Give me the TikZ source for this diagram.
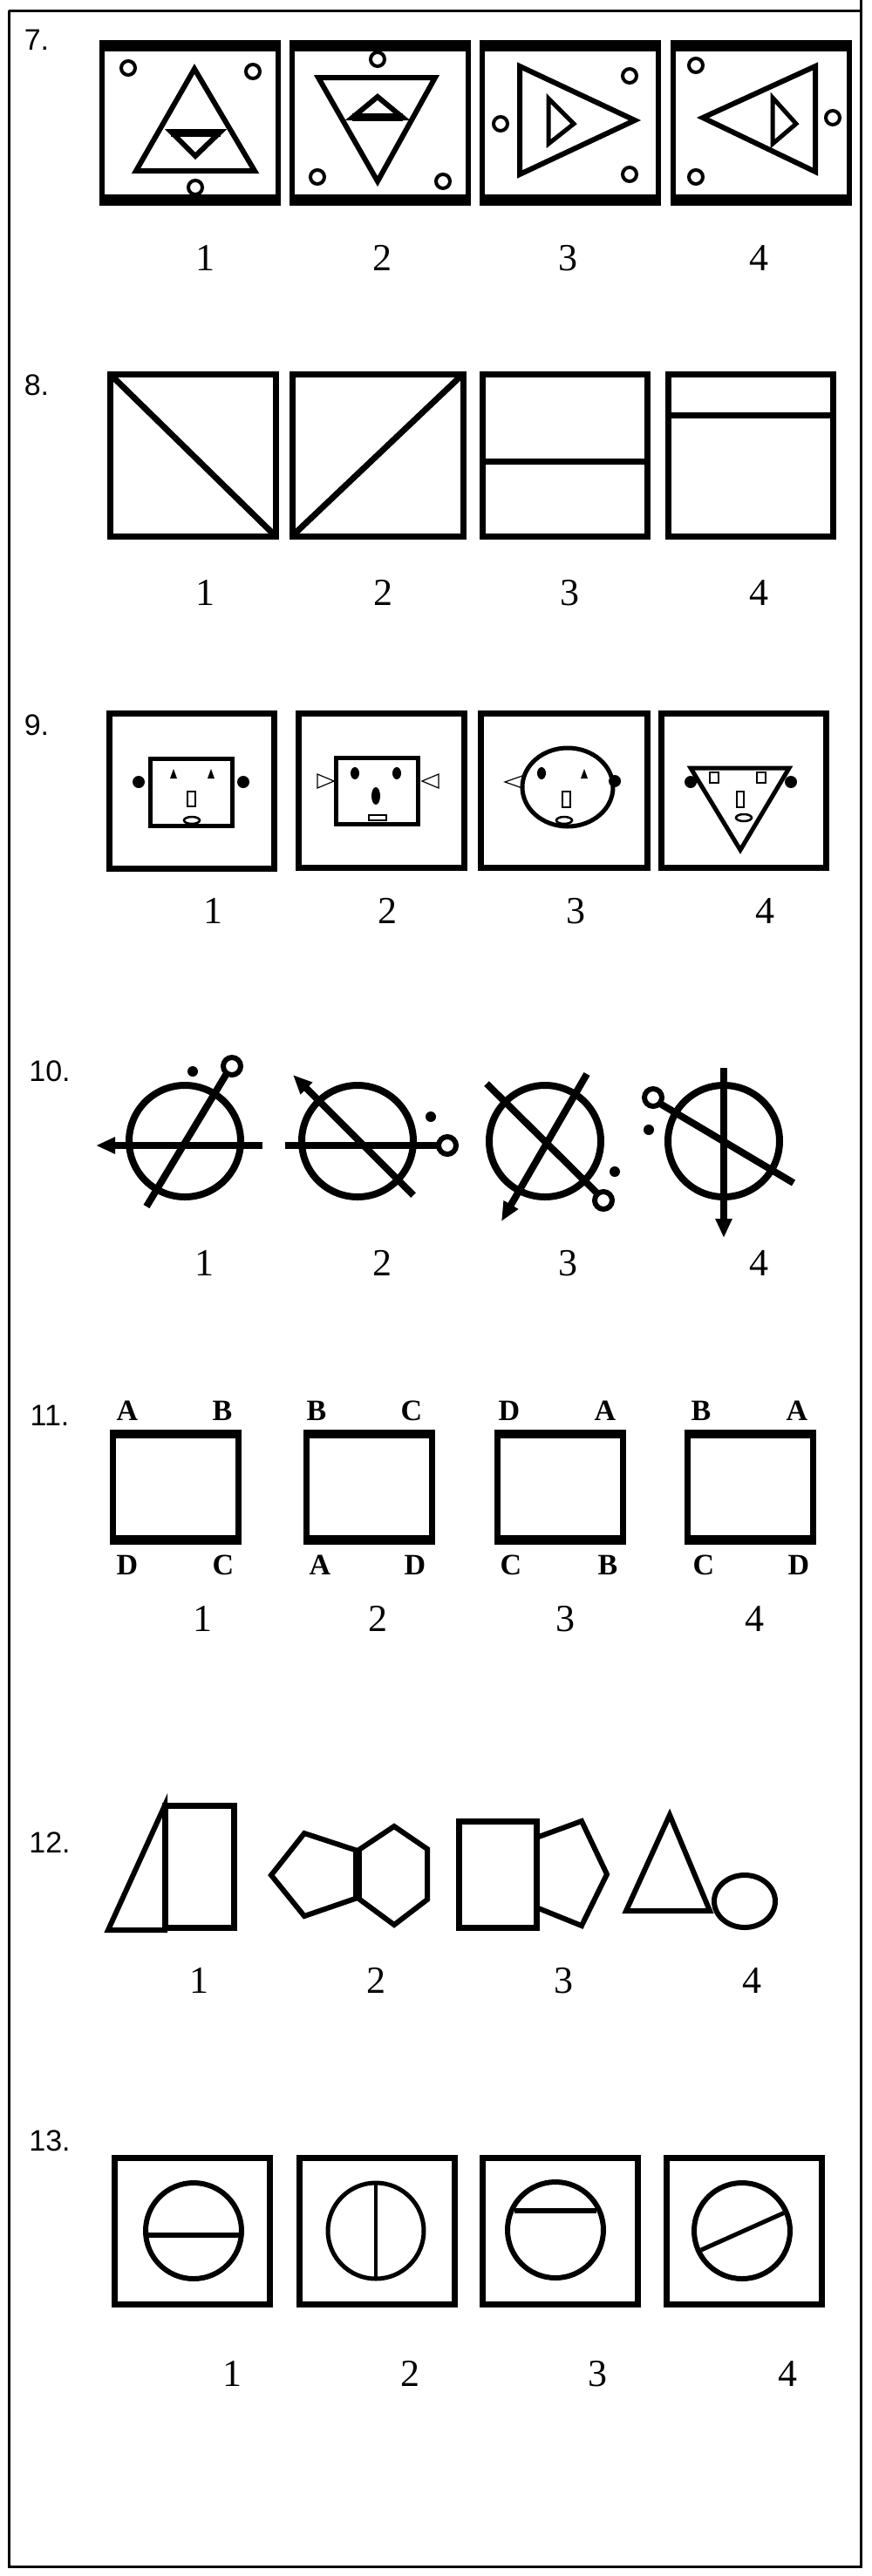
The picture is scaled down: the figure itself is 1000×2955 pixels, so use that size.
\documentclass[tikz,border=0pt]{standalone}
\usepackage{fontspec}
\setmainfont{Liberation Serif}
\newfontfamily\lblfont{Liberation Sans}
\usetikzlibrary{arrows.meta}
\begin{document}
\begin{tikzpicture}[x=1pt,y=-1pt,
  num/.style={font=\fontsize{44}{50}\selectfont, inner sep=0pt},
  qlbl/.style={font=\lblfont\fontsize{34}{40}\selectfont, inner sep=0pt},
  let11/.style={font=\bfseries\fontsize{34}{40}\selectfont, inner sep=0pt},
  fr/.style={line width=7pt},
  thin6/.style={line width=6pt},
  dotc/.style={line width=4pt},
  lw8/.style={line width=8pt},
  tip/.style={-{Triangle[length=22pt,width=18pt]}},
  line join=miter]
\useasboundingbox (0,0) rectangle (1000,2955);
\fill[white] (0,0) rectangle (1000,2955);
% border
\draw[line width=3pt] (10,12) -- (10,2944) -- (987,2944) -- (987,0);
\draw[line width=3pt] (10,12) -- (987,12);

% ---------- 7 ----------
\node[qlbl] (l7) at (42,46) {7.};
\foreach \x in {117,335,553,772}{
  \draw[thin6] (\x,49) rectangle ++(202,183);
  \draw[line width=13pt] (\x-3,52) -- ++(208,0);
  \draw[line width=13pt] (\x-3,229) -- ++(208,0);
}
% box1
\draw[thin6] (223,79) -- (292,196) -- (156,196) -- cycle;
\draw[thin6] (196,151) -- (253,151) -- (224,179) -- cycle;
\draw[line width=9pt] (196,152) -- (253,152);
\foreach \p in {(147,78),(290,82),(224,215)} \draw[dotc] \p circle (8);
% box2
\draw[thin6] (365,89) -- (499,89) -- (433,208) -- cycle;
\draw[thin6] (404,135) -- (462,135) -- (433,111) -- cycle;
\draw[line width=9pt] (404,134) -- (462,134);
\foreach \p in {(433,68),(364,203),(508,208)} \draw[dotc] \p circle (8);
% box3
\draw[thin6] (596,76) -- (728,138) -- (596,200) -- cycle;
\draw[line width=5pt] (629,113) -- (658,142) -- (629,165) -- cycle;
\foreach \p in {(574,142),(722,87),(722,200)} \draw[dotc] \p circle (8);
% box4
\draw[thin6] (935,76) -- (806,135) -- (935,197) -- cycle;
\draw[line width=5pt] (886,112) -- (913,142) -- (886,165) -- cycle;
\foreach \p in {(798,75),(798,203),(955,135)} \draw[dotc] \p circle (8);
\node[num] (n7a) at (235,296) {1};
\node[num] (n7b) at (438,296) {2};
\node[num] (n7c) at (651,296) {3};
\node[num] (n7d) at (870,296) {4};

% ---------- 8 ----------
\node[qlbl] (l8) at (42,442) {8.};
\draw[fr] (126,429) rectangle (316,615);
\draw[fr] (126,429) -- (316,615);
\draw[fr] (335,429) rectangle (531,615);
\draw[fr] (335,615) -- (531,429);
\draw[fr] (553,429) rectangle (742,615);
\draw[fr] (553,529) -- (742,529);
\draw[fr] (766,429) rectangle (955,615);
\draw[fr] (766,476) -- (955,476);
\node[num] (n8a) at (235,680) {1};
\node[num] (n8b) at (439,680) {2};
\node[num] (n8c) at (653,680) {3};
\node[num] (n8d) at (870,680) {4};

% ---------- 9 ----------
\node[qlbl] (l9) at (42,832) {9.};
\draw[fr] (125,818) rectangle (314,996);
\draw[fr] (342,818) rectangle (532,995);
\draw[fr] (551,818) rectangle (742,995);
\draw[fr] (758,818) rectangle (947,995);
% face1
\draw[line width=5pt] (172,870) rectangle (266,947);
\fill (159,897) circle (7);
\fill (279,897) circle (7);
\fill (195,893) -- (203,893) -- (199,882) -- cycle;
\fill (238,893) -- (246,893) -- (242,882) -- cycle;
\draw[line width=2.5pt] (215,908) rectangle (224,925);
\draw[line width=2.5pt] (220,941) ellipse (9 and 4);
% face2
\draw[line width=5pt] (385,869) rectangle (479,945);
\draw[line width=1.2pt] (364,888) -- (383,896) -- (364,904) -- cycle;
\draw[line width=1.2pt] (503,888) -- (484,896) -- (503,904) -- cycle;
\fill (407,887) ellipse (5 and 7);
\fill (455,887) ellipse (5 and 7);
\fill (431,913) ellipse (5 and 10);
\draw[line width=2pt] (423,935) rectangle (443,941);
% face3
\draw[line width=5pt] (651,903) ellipse (52 and 45);
\draw[line width=1.2pt] (599,890) -- (579,897) -- (599,904);
\fill (705,896) circle (7);
\fill (621,887) ellipse (5 and 7);
\fill (666,893) -- (674,893) -- (670,882) -- cycle;
\draw[line width=2.5pt] (645,908) rectangle (654,926);
\draw[line width=2.5pt] (647,941) ellipse (9 and 4);
% face4
\draw[line width=5pt] (792,881) -- (905,881) -- (849,975) -- cycle;
\fill (792,897) circle (7);
\fill (907,897) circle (7);
\draw[line width=2pt] (814,886) rectangle (824,898);
\draw[line width=2pt] (868,886) rectangle (878,898);
\draw[line width=2.5pt] (845,908) rectangle (853,926);
\draw[line width=2.5pt] (853,938) ellipse (9 and 4);
\node[num] (n9a) at (244,1045) {1};
\node[num] (n9b) at (444,1045) {2};
\node[num] (n9c) at (660,1045) {3};
\node[num] (n9d) at (877,1045) {4};

% ---------- 10 ----------
\node[qlbl] (l10) at (57,1229) {10.};
% item1
\draw[lw8] (212,1309) circle (64);
\draw[lw8,tip] (301,1314) -- (110,1314);
\draw[lw8] (168,1384) -- (259,1233);
\draw[line width=6pt] (266,1223) circle (10);
\fill (221,1229) circle (6);
% item2
\draw[lw8] (410,1309) circle (64);
\draw[lw8] (327,1314) -- (502,1314);
\draw[line width=6pt] (513,1314) circle (10);
\fill (494,1281) circle (6);
\draw[lw8,tip] (474,1371) -- (336,1233);
% item3
\draw[lw8] (625,1309) circle (64);
\draw[lw8] (558,1243) -- (685,1369);
\draw[line width=6pt] (692,1377) circle (10);
\draw[lw8,tip] (673,1232) -- (575,1401);
\fill (705,1344) circle (6);
% item4
\draw[lw8] (830,1309) circle (64);
\draw[lw8,tip] (830,1225) -- (830,1420);
\draw[lw8] (910,1357) -- (757,1266);
\draw[line width=6pt] (749,1259) circle (10);
\fill (744,1296) circle (6);
\node[num] (n10a) at (234,1449) {1};
\node[num] (n10b) at (438,1449) {2};
\node[num] (n10c) at (651,1449) {3};
\node[num] (n10d) at (870,1449) {4};

% ---------- 11 ----------
\node[qlbl] (l11) at (57,1624) {11.};
\foreach \x in {129,351,570,788}{
  \draw[fr] (\x,1643) rectangle ++(144,125);
  \draw[line width=10pt] (\x-3,1645) -- ++(150,0);
  \draw[line width=10pt] (\x-3,1766) -- ++(150,0);
}
\node[let11] (t1a) at (146,1618) {A}; \node[let11] (t1b) at (255,1618) {B};
\node[let11] (t2a) at (363,1618) {B}; \node[let11] (t2b) at (472,1618) {C};
\node[let11] (t3a) at (584,1618) {D}; \node[let11] (t3b) at (694,1618) {A};
\node[let11] (t4a) at (804,1618) {B}; \node[let11] (t4b) at (914,1618) {A};
\node[let11] (b1a) at (146,1795) {D}; \node[let11] (b1b) at (256,1795) {C};
\node[let11] (b2a) at (367,1795) {A}; \node[let11] (b2b) at (476,1795) {D};
\node[let11] (b3a) at (586,1795) {C}; \node[let11] (b3b) at (697,1795) {B};
\node[let11] (b4a) at (807,1795) {C}; \node[let11] (b4b) at (916,1795) {D};
\node[num] (n11a) at (232,1857) {1};
\node[num] (n11b) at (433,1857) {2};
\node[num] (n11c) at (648,1857) {3};
\node[num] (n11d) at (865,1857) {4};

% ---------- 12 ----------
\node[qlbl] (l12) at (57,2114) {12.};
\draw[fr] (189,2071) rectangle (268,2211);
\draw[line width=6pt] (189,2071) -- (124,2214) -- (189,2214) -- cycle;
\draw[line width=6pt] (410,2123) -- (349,2103) -- (311,2151) -- (349,2198) -- (410,2177);
\draw[line width=6pt] (410,2123) -- (452,2095) -- (490,2121) -- (490,2179) -- (452,2208) -- (410,2177);
\draw[line width=10pt] (410,2121) -- (410,2179);
\draw[fr] (526,2089) rectangle (615,2211);
\draw[line width=6pt] (615,2108) -- (667,2089) -- (696,2150) -- (667,2209) -- (615,2188);
\draw[line width=6pt] (768,2082) -- (814,2192) -- (718,2192) -- cycle;
\draw[line width=6pt] (854,2181) ellipse (35 and 30);
\node[num] (n12a) at (228,2272) {1};
\node[num] (n12b) at (431,2272) {2};
\node[num] (n12c) at (646,2272) {3};
\node[num] (n12d) at (862,2272) {4};

% ---------- 13 ----------
\node[qlbl] (l13) at (57,2456) {13.};
\foreach \x in {131,343,553,764}
  \draw[fr] (\x,2475) rectangle ++(178,168);
\draw[line width=6pt] (222,2559) circle (55);
\draw[line width=6pt] (167,2564) -- (277,2564);
\draw[line width=5pt] (431,2559) circle (55);
\draw[line width=4pt] (431,2504) -- (431,2614);
\draw[line width=6pt] (637,2558) circle (55);
\draw[line width=6pt] (590,2536) -- (684,2536);
\draw[line width=6pt] (851,2559) circle (55);
\draw[line width=5pt] (804,2581) -- (900,2538);
\node[num] (n13a) at (266,2723) {1};
\node[num] (n13b) at (470,2723) {2};
\node[num] (n13c) at (685,2723) {3};
\node[num] (n13d) at (903,2723) {4};
\end{tikzpicture}
\end{document}
